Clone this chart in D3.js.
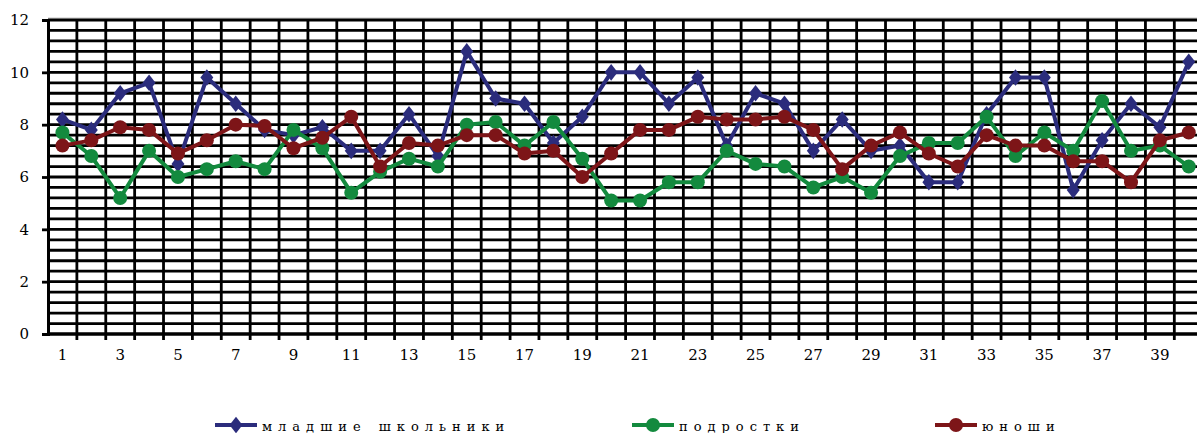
<html lang="ru">
<head>
<meta charset="utf-8">
<script src="https://d3js.org/d3.v7.min.js"></script>
<style>
  body { margin: 0; overflow: hidden; background: #fff; }
</style>
</head>
<body>
<script>
// data
var categories = d3.range(1, 41)   // 1..40
var juniors = [8.2, 7.8, 9.2, 9.6, 6.5, 9.8, 8.8, 7.8, 7.6, 7.9,
               7.0, 7.0, 8.4, 6.8, 10.8, 9.0, 8.8, 7.3, 8.3, 10.0,
               10.0, 8.8, 9.8, 7.2, 9.2, 8.8, 7.0, 8.2, 7.0, 7.2,
               5.8, 5.8, 8.4, 9.8, 9.8, 5.5, 7.4, 8.8, 7.9, 10.4]
var teens = [7.7, 6.8, 5.2, 7.0, 6.0, 6.3, 6.6, 6.3, 7.8, 7.1,
             5.4, 6.2, 6.7, 6.4, 8.0, 8.1, 7.2, 8.1, 6.7, 5.1,
             5.1, 5.8, 5.8, 7.0, 6.5, 6.4, 5.6, 6.0, 5.4, 6.8,
             7.3, 7.3, 8.3, 6.8, 7.7, 7.0, 8.9, 7.0, 7.2, 6.4]
var youths = [7.2, 7.4, 7.9, 7.8, 6.9, 7.4, 8.0, 7.95, 7.1, 7.5,
              8.3, 6.4, 7.3, 7.2, 7.6, 7.6, 6.9, 7.0, 6.0, 6.9,
              7.8, 7.8, 8.3, 8.2, 8.2, 8.3, 7.8, 6.3, 7.2, 7.7,
              6.9, 6.4, 7.6, 7.2, 7.2, 6.6, 6.6, 5.8, 7.4, 7.7]
var seriesNames = ["младшие школьники", "подростки", "юноши"]
var seriesColors = ["#2b2c7c", "#138a3e", "#7d1518"]
var yTicks = [0, 2, 4, 6, 8, 10, 12]

var width = 1197
var height = 433
// Liberation Serif turned out not to give a serif face here, DejaVu Serif does
var serif = "DejaVu Serif"

var svg = d3.select("body")
            .append("svg")
            .attr("width", width)
            .attr("height", height)
            .style("overflow", "hidden")

// note: "top" is taken by window.top, so use plot* names
var plotLeft = 48, plotTop = 20, plotBottom = 334
var band = 28.88

var x = d3.scaleBand()
    .domain(categories)
    .range([plotLeft, plotLeft + band * categories.length])

var y = d3.scaleLinear()
    .domain([0, 12])
    .range([plotBottom, plotTop])

// plot border (only the top shows)
svg.append("line")
   .attr("x1", plotLeft).attr("x2", width)
   .attr("y1", plotTop - 2).attr("y2", plotTop - 2)
   .attr("stroke", "#c4c4c4").attr("stroke-width", 1)

// horizontal grid every 0.4
svg.append("g").selectAll("line")
   .data(d3.range(0, 31).map(function(i) { return i * 0.4 }))
   .enter().append("line")
   .attr("x1", plotLeft).attr("x2", plotLeft + band * categories.length)
   .attr("y1", function(d) { return y(d) }).attr("y2", function(d) { return y(d) })
   .attr("stroke", "#000").attr("stroke-width", 2.8)

// vertical grid at category boundaries (with ticks below the axis)
svg.append("g").selectAll("line")
   .data(categories)
   .enter().append("line")
   .attr("x1", function(d) { return x(d) + band }).attr("x2", function(d) { return x(d) + band })
   .attr("y1", plotTop).attr("y2", plotBottom + 6)
   .attr("stroke", "#000").attr("stroke-width", 2.8)

// y axis
var yAxis = svg.append("g")
   .attr("transform", "translate(" + plotLeft + ",0)")
   .call(d3.axisLeft(y).tickValues(yTicks).tickSize(6).tickPadding(13).tickFormat(d3.format("d")))
yAxis.attr("font-family", serif).attr("font-size", 15)
yAxis.select(".domain").attr("stroke", "#000").attr("stroke-width", 3)
yAxis.selectAll(".tick line").attr("stroke", "#000").attr("stroke-width", 2.8)
yAxis.selectAll("text").attr("fill", "#000")

// x axis labels (odd categories)
var xAxis = svg.append("g")
   .attr("transform", "translate(0," + plotBottom + ")")
   .call(d3.axisBottom(x).tickSize(0).tickPadding(15)
     .tickFormat(function(d) { return d % 2 === 1 ? d : "" }))
xAxis.attr("font-family", serif).attr("font-size", 15)
xAxis.select(".domain").remove()
xAxis.selectAll("text").attr("fill", "#000")

svg.append("line")
   .attr("x1", plotLeft).attr("x2", width)
   .attr("y1", plotBottom).attr("y2", plotBottom)
   .attr("stroke", "#000").attr("stroke-width", 3)

// lines and markers
var allSeries = [juniors, teens, youths]
var line = d3.line()
    .x(function(d, i) { return x(categories[i]) + band / 2 })
    .y(function(d) { return y(d) })

function drawMarker(g, k, cx, cy) {
  if (k === 0) {
    g.append("path")
     .attr("d", d3.symbol().type(d3.symbolDiamond).size(110)())
     .attr("transform", "translate(" + cx + "," + cy + ") scale(1.15,0.85)")
     .attr("fill", seriesColors[k])
  } else {
    g.append("circle")
     .attr("cx", cx).attr("cy", cy).attr("r", 7)
     .attr("fill", seriesColors[k])
  }
}

allSeries.forEach(function(vals, k) {
  svg.append("path")
     .datum(vals)
     .attr("d", line)
     .attr("fill", "none")
     .attr("stroke", seriesColors[k])
     .attr("stroke-width", 4)
     .attr("stroke-linejoin", "round")
  var g = svg.append("g")
  vals.forEach(function(v, i) {
    drawMarker(g, k, x(categories[i]) + band / 2, y(v))
  })
})

// legend
var legendX = [215, 632, 935]
seriesNames.forEach(function(name, k) {
  var g = svg.append("g")
  g.append("line")
   .attr("x1", legendX[k]).attr("x2", legendX[k] + 42)
   .attr("y1", 425).attr("y2", 425)
   .attr("stroke", seriesColors[k]).attr("stroke-width", 4)
  drawMarker(g, k, legendX[k] + 21, 425)
  g.append("text")
   .attr("x", legendX[k] + 47)
   .attr("y", 431)
   .attr("font-family", serif)
   .attr("font-size", 13)
   .style("letter-spacing", "6px")
   .style("word-spacing", "2px")
   .text(name)
})
</script>
</body>
</html>
